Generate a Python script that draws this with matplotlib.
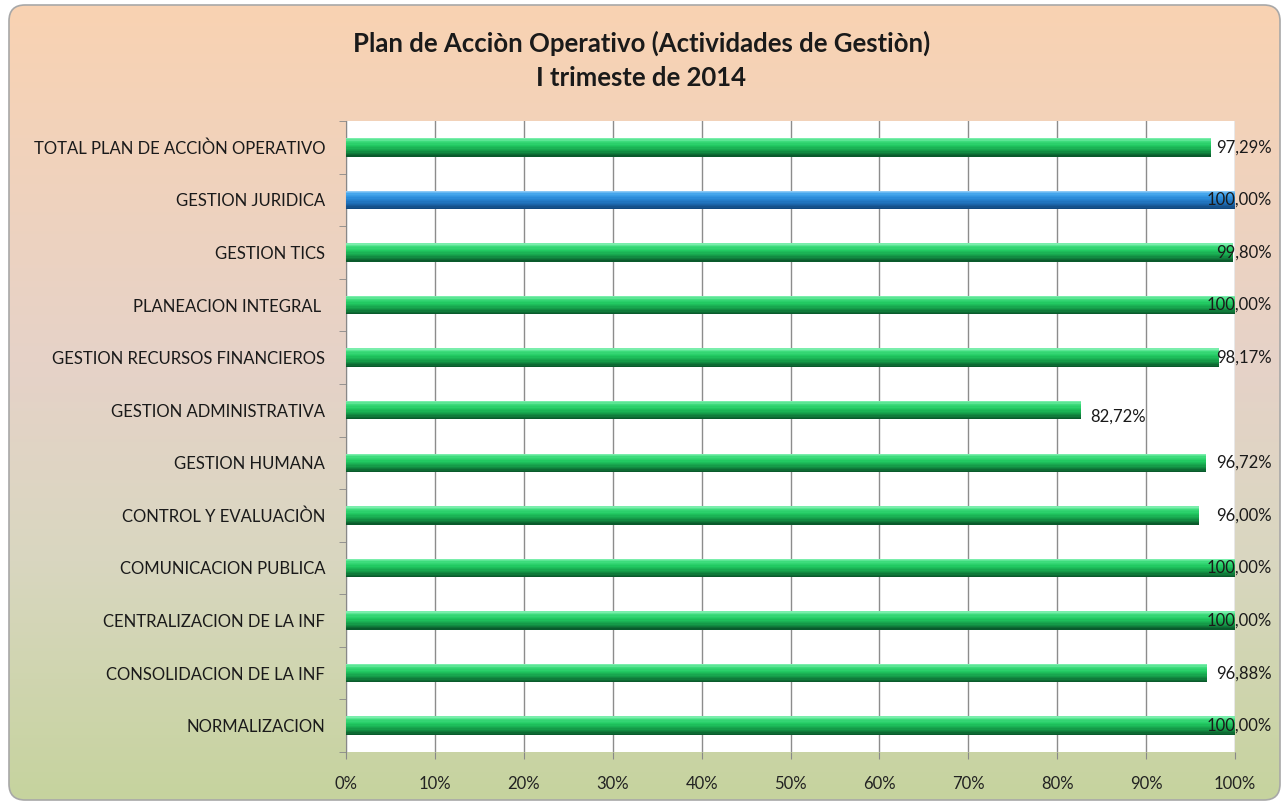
import numpy as np
import matplotlib
matplotlib.use("Agg")
import matplotlib.pyplot as plt
from matplotlib.patches import FancyBboxPatch
from matplotlib.colors import LinearSegmentedColormap

# Datos (de abajo hacia arriba)
categorias = [
    "NORMALIZACION",
    "CONSOLIDACION DE LA INF",
    "CENTRALIZACION DE LA INF",
    "COMUNICACION PUBLICA",
    "CONTROL Y EVALUACIÒN",
    "GESTION HUMANA",
    "GESTION ADMINISTRATIVA",
    "GESTION RECURSOS FINANCIEROS",
    "PLANEACION INTEGRAL ",
    "GESTION TICS",
    "GESTION JURIDICA",
    "TOTAL PLAN DE ACCIÒN OPERATIVO",
]
valores = [1.0, 0.9688, 1.0, 1.0, 0.96, 0.9672, 0.8272, 0.9817, 1.0, 0.998, 1.0, 0.9729]
etiquetas = ["100,00%", "96,88%", "100,00%", "100,00%", "96,00%", "96,72%",
             "82,72%", "98,17%", "100,00%", "99,80%", "100,00%", "97,29%"]
destacado = "GESTION JURIDICA"
x_ticks = [0.0, 0.1, 0.2, 0.3, 0.4, 0.5, 0.6, 0.7, 0.8, 0.9, 1.0]
x_ticklabels = ["0%", "10%", "20%", "30%", "40%", "50%", "60%", "70%", "80%", "90%", "100%"]

plt.rcParams['font.family'] = ['Lato', 'DejaVu Sans']

fig = plt.figure(figsize=(12.83, 8.05), dpi=100)
fig.patch.set_facecolor("white")

# Fondo degradado con bordes redondeados
bg = fig.add_axes([0, 0, 1, 1], zorder=0)
bg.set_xlim(0, 1283)
bg.set_ylim(805, 0)
bg.axis("off")
cmap_bg = LinearSegmentedColormap.from_list(
    "bg", [(0.0, "#f9d2b2"), (0.45, "#e6d2c8"), (0.7, "#d9d7c0"), (1.0, "#c6d39e")])
grad = np.linspace(0, 1, 256).reshape(-1, 1)
img = bg.imshow(grad, cmap=cmap_bg, aspect="auto", extent=[9, 1280, 800, 5])
caja = FancyBboxPatch((9, 5), 1271, 795, boxstyle="round,pad=0,rounding_size=16",
                      facecolor="none", edgecolor="#a8a8a8", linewidth=1.2)
bg.add_patch(caja)
img.set_clip_path(caja)

ax = fig.add_axes([346 / 1283, 1 - 752 / 805, (1235 - 346) / 1283, (752 - 121) / 805], zorder=1)
ax.set_facecolor("white")

# Degradado tipo cilindro para las barras
cmap_verde = LinearSegmentedColormap.from_list(
    "verde", [(0.0, "#0a5a2c"), (0.3, "#159a48"), (0.6, "#20c860"), (0.85, "#3ddc7c"), (1.0, "#7aeeac")])
cmap_azul = LinearSegmentedColormap.from_list(
    "azul", [(0.0, "#12487e"), (0.3, "#1e6cb4"), (0.6, "#2a8ad8"), (0.85, "#45a6ec"), (1.0, "#8ccaf6")])

y = np.arange(len(categorias))
h = 0.35
n_capas = 14
for i, (cat, v) in enumerate(zip(categorias, valores)):
    cmap = cmap_azul if cat == destacado else cmap_verde
    dh = h / n_capas
    for k in range(n_capas):
        yc = i - h / 2 + dh * (k + 0.5)
        ax.barh(yc, v, height=dh * 1.05, color=cmap(k / (n_capas - 1)),
                linewidth=0, zorder=3)

# Etiquetas de valor
for i, (v, t) in enumerate(zip(valores, etiquetas)):
    if v > 0.9:
        ax.text(1.0415, i, t, ha="right", va="center", fontsize=12, color="#1a1a1a",
                transform=ax.get_yaxis_transform(), zorder=6, clip_on=False)
    else:
        ax.text(v + 0.01, i - 0.12, t, ha="left", va="center", fontsize=12,
                color="#1a1a1a", zorder=6)

ax.set_xlim(0, 1)
ax.set_ylim(-0.5, len(categorias) - 0.5)
ax.set_xticks(x_ticks)
ax.set_xticklabels(x_ticklabels, fontsize=12, color="#222222")
ax.set_yticks(y)
ax.set_yticklabels(categorias, fontsize=12, color="#1a1a1a")
ax.set_yticks(np.arange(-0.5, len(categorias), 1), minor=True)
ax.tick_params(axis="y", which="major", length=0, pad=15)
ax.tick_params(axis="y", which="minor", length=5, color="#888888")
ax.tick_params(axis="x", length=5, color="#888888", pad=12)
ax.grid(axis="x", color="#8c8c8c", linewidth=1, zorder=1)
ax.set_axisbelow(True)
for s in ["top", "right", "bottom"]:
    ax.spines[s].set_visible(False)
ax.spines["left"].set_color("#888888")

fig.text(0.5, 1 - 43 / 805, "Plan de Acciòn Operativo (Actividades de Gestiòn)",
         ha="center", va="center", fontsize=18.5, fontweight="bold", color="#1a1a1a")
fig.text(0.5, 1 - 78 / 805, "I trimeste de 2014",
         ha="center", va="center", fontsize=18.5, fontweight="bold", color="#1a1a1a")

fig.savefig("out.png", dpi=100)
